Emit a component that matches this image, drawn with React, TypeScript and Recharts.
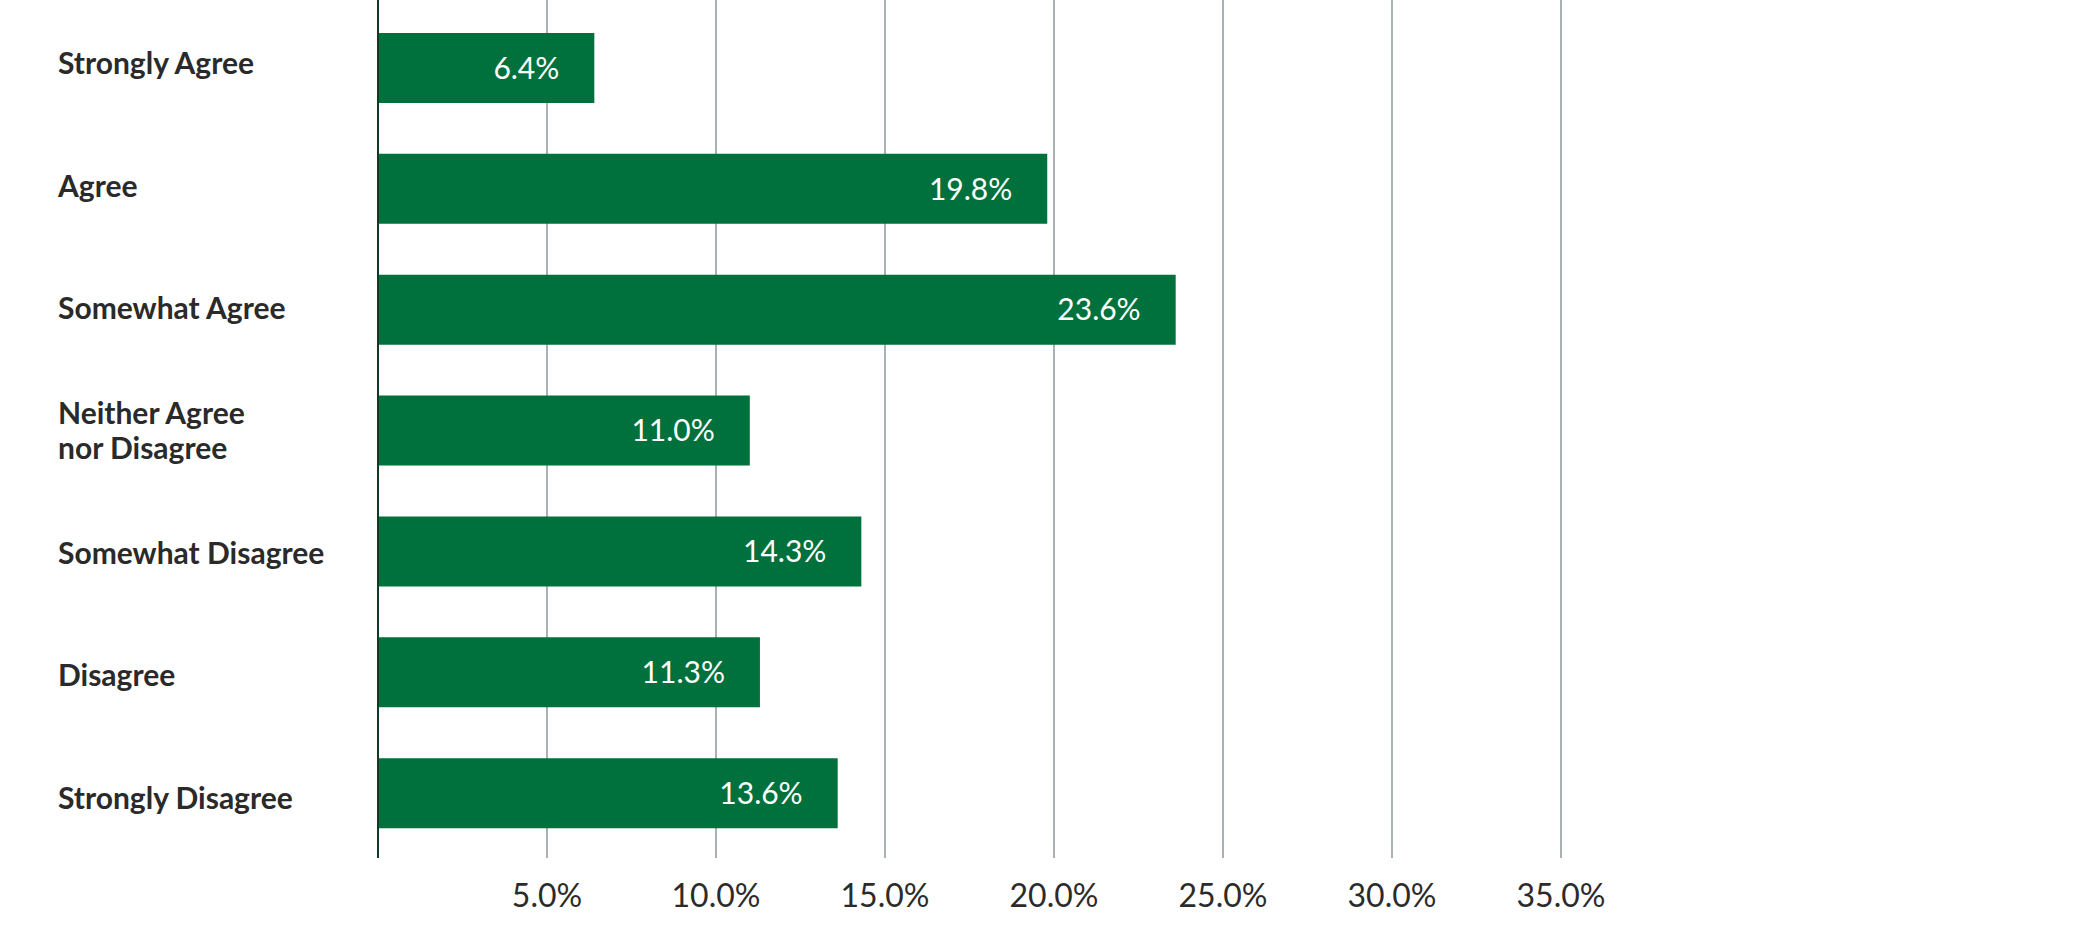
import { BarChart, Bar, XAxis, YAxis, CartesianGrid, LabelList } from 'recharts'

const categories = [
  'Strongly Agree',
  'Agree',
  'Somewhat Agree',
  'Neither Agree\nnor Disagree',
  'Somewhat Disagree',
  'Disagree',
  'Strongly Disagree',
]
const shares = [6.4, 19.8, 23.6, 11.0, 14.3, 11.3, 13.6]
const xTicks = [5, 10, 15, 20, 25, 30, 35]

const data = categories.map((name, i) => ({ name, value: shares[i] }))

const GREEN = '#00703c'
const font = 'Lato, "Noto Sans", sans-serif'

function CategoryTick({ y, payload, index }: any) {
  const lines = String(payload.value).split('\n')
  const lh = 35
  // labels in the original sit a little apart from the bar centres
  const start = y - 6 + (index ?? 0) * 1.5 - ((lines.length - 1) * lh) / 2
  return (
    <text x={58} y={start} textAnchor="start" fontFamily={font} fontWeight={700} fontSize={30} fill="#2a2a2a">
      {lines.map((l, i) => (
        <tspan key={i} x={58} y={start + i * lh} dominantBaseline="central">{l}</tspan>
      ))}
    </text>
  )
}

function PctTick({ x, y, payload }: any) {
  return (
    <text x={x} y={y + 28} textAnchor="middle" dominantBaseline="central"
      fontFamily={font} fontSize={32} fill="#2b2b2b">
      {`${Number(payload.value).toFixed(1)}%`}
    </text>
  )
}

export default function App() {
  return (
    <div style={{ position: 'absolute', left: 0, top: 0, background: '#fff' }}>
      <BarChart width={2100} height={930} data={data} layout="vertical"
        margin={{ top: 0, right: 539, bottom: 0, left: 0 }}>
        <CartesianGrid horizontal={false} vertical stroke="#8c9898" strokeWidth={1.5} />
        <XAxis type="number" domain={[0, 35]} ticks={xTicks} height={72}
          axisLine={false} tickLine={false} tick={<PctTick />} />
        <YAxis type="category" dataKey="name" width={378} padding={{ top: 8, bottom: 4 }}
          axisLine={{ stroke: '#0b3d23', strokeWidth: 2 }} tickLine={false} tick={<CategoryTick />} />
        <Bar dataKey="value" fill={GREEN} barSize={70} isAnimationActive={false}>
          <LabelList dataKey="value" position="insideRight" offset={35}
            formatter={(v: any) => `${Number(v).toFixed(1)}%`}
            style={{ fill: '#ffffff', fontFamily: font, fontSize: 30 }} />
        </Bar>
      </BarChart>
    </div>
  )
}
